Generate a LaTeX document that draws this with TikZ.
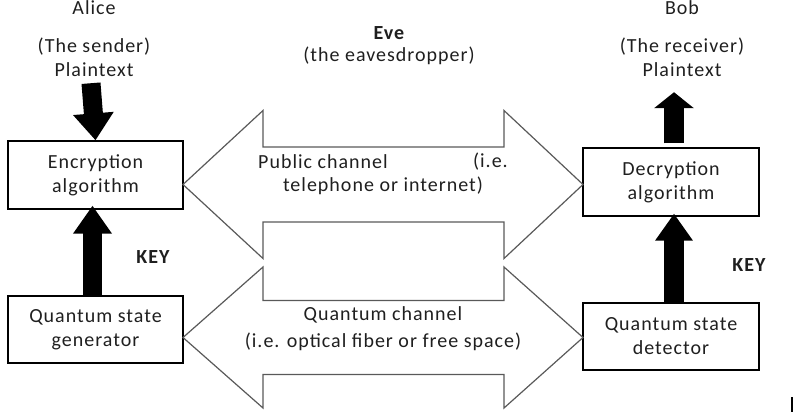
\documentclass[tikz,border=0pt]{standalone}
\usepackage{fontspec}
\setmainfont{Carlito}[LetterSpace=5]
\usetikzlibrary{arrows.meta,calc}
\begin{document}
\begin{tikzpicture}[x=1pt,y=-1pt,
  txt/.style={inner sep=0pt,align=center,text=black!88,font=\fontsize{20}{24}\selectfont},
  boxnode/.style={draw=black,line width=1.3pt,inner sep=0pt,align=center,text=black!88,
    minimum width=175pt,minimum height=68pt,font=\fontsize{20}{24}\selectfont},
  chan/.style={draw=black!65,line width=1.2pt,line join=miter},
  blk/.style={line width=19pt,black},
]
\useasboundingbox (0,0) rectangle (795,418);
% left column
\node[txt] (alice) at (94,8) {Alice};
\node[txt] (sender) at (94,47) {(The sender)};
\node[txt] (pl1) at (94,70) {Plaintext};
\node[boxnode] (enc) at (95.5,175) {Encryption\\algorithm};
\node[boxnode,minimum height=67pt] (qsg) at (95.5,329.5) {Quantum state\\generator};
\node[txt,font=\fontsize{20}{24}\selectfont\bfseries] (key1) at (153,257) {KEY};
% right column
\node[txt] (bob) at (682,8) {Bob};
\node[txt] (receiver) at (682,47) {(The receiver)};
\node[txt] (pl2) at (682,70) {Plaintext};
\node[boxnode,minimum width=176pt] (dec) at (671,182) {Decryption\\algorithm};
\node[boxnode,minimum width=176pt,minimum height=67pt] (qsd) at (671,336.5) {Quantum state\\detector};
\node[txt,font=\fontsize{20}{24}\selectfont\bfseries] (key2) at (749,265) {KEY};
% Eve
\node[txt,font=\fontsize{20}{24}\selectfont\bfseries] (eve) at (389,33) {Eve};
\node[txt] (eaves) at (389,56) {(the eavesdropper)};
% block arrows
\draw[blk,-{Triangle[length=27pt,width=39pt]}] ([xshift=-3pt,yshift=-6pt]pl1.south) -- (enc.north);
\draw[blk,-{Triangle[length=28pt,width=37pt]}] ([xshift=-3pt]qsg.north) -- ([xshift=-3pt,yshift=4pt]enc.south);
\draw[blk,line width=20pt,-{Triangle[length=16pt,width=39pt]}] ([xshift=3pt,yshift=4pt]dec.north) -- ([xshift=-8pt,yshift=-15pt]pl2.south);
\draw[blk,line width=20pt,-{Triangle[length=27pt,width=36pt]}] ([xshift=3pt]qsd.north) -- ([xshift=3pt,yshift=3pt]dec.south);
% public channel double arrow
\coordinate (pL) at (183,184.5);
\coordinate (pR) at (583,184.5);
\draw[chan] (pL) -- ($(pL)+(80,-74)$) -- ($(pL)+(80,-37.5)$) -- ($(pR)+(-79,-37.5)$)
  -- ($(pR)+(-79,-74)$) -- (pR) -- ($(pR)+(-79,74)$) -- ($(pR)+(-79,37.5)$)
  -- ($(pL)+(80,37.5)$) -- ($(pL)+(80,74)$) -- cycle;
\node[txt,anchor=west] (pub) at (258,162) {Public channel};
\node[txt,anchor=east] (ie) at (508,162) {(i.e.};
\node[txt] (tel) at (383,186) {telephone or internet)};
% quantum channel double arrow
\coordinate (qL) at (183,337.5);
\coordinate (qR) at (583,337.5);
\draw[chan] (qL) -- ($(qL)+(80,-70.5)$) -- ($(qL)+(80,-37)$) -- ($(qR)+(-79,-37)$)
  -- ($(qR)+(-79,-70.5)$) -- (qR) -- ($(qR)+(-79,70.5)$) -- ($(qR)+(-79,37)$)
  -- ($(qL)+(80,37)$) -- ($(qL)+(80,70.5)$) -- cycle;
\node[txt] (qch) at (383,315) {Quantum channel};
\node[txt] (opt) at (383,342) {(i.e. optical fiber or free space)};
% stray mark
\draw[line width=2pt,black] (792,397) -- (792,412);
\end{tikzpicture}
\end{document}
